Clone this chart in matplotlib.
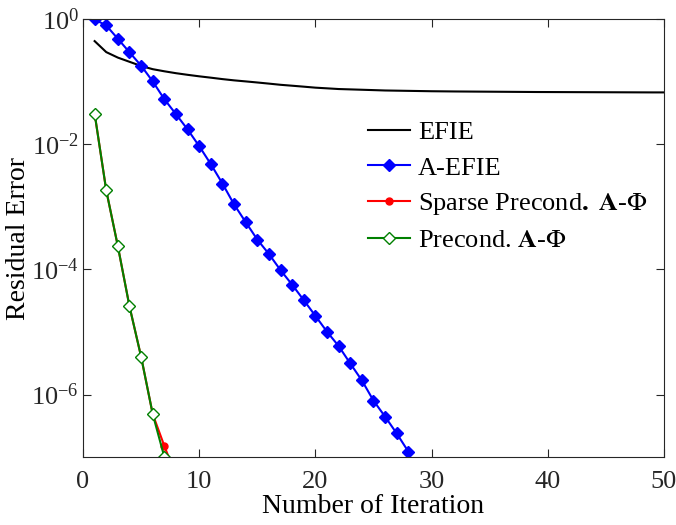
import matplotlib
matplotlib.use("Agg")
import matplotlib.pyplot as plt
import numpy as np

plt.rcParams["font.family"] = ["Liberation Serif", "DejaVu Serif"]
plt.rcParams["mathtext.fontset"] = "stix"

# residual error vs iteration
efie_it = list(range(1, 51))
efie_err = [0.45, 0.30, 0.245, 0.21, 0.18, 0.16, 0.148, 0.138, 0.13, 0.123,
            0.117, 0.111, 0.106, 0.102, 0.098, 0.094, 0.090, 0.087, 0.084, 0.081,
            0.079, 0.077, 0.076, 0.075, 0.074, 0.073, 0.0725, 0.072, 0.0715, 0.071,
            0.0707, 0.0704, 0.0702, 0.070, 0.0698, 0.0696, 0.0694, 0.0692, 0.069, 0.0689,
            0.0688, 0.0687, 0.0686, 0.0685, 0.0684, 0.0683, 0.0682, 0.0681, 0.068, 0.068]

aefie_it = list(range(1, 29))
aefie_err = [1.0, 0.80, 0.49, 0.298, 0.182, 0.102, 0.053, 0.0305, 0.0174, 9.4e-3,
             4.84e-3, 2.37e-3, 1.10e-3, 5.72e-4, 3.01e-4, 1.77e-4, 9.75e-5, 5.70e-5,
             3.23e-5, 1.81e-5, 1.01e-5, 5.96e-6, 3.14e-6, 1.68e-6, 7.98e-7, 4.42e-7,
             2.38e-7, 1.22e-7]

sparse_it = list(range(1, 9))
sparse_err = [0.0312, 1.84e-3, 2.35e-4, 2.57e-5, 4.02e-6, 4.85e-7, 1.5e-7, 5e-8]

precond_it = list(range(1, 8))
precond_err = [0.0312, 1.84e-3, 2.35e-4, 2.57e-5, 4.02e-6, 4.85e-7, 1.0e-7]

fig = plt.figure(figsize=(6.76, 5.25), dpi=100)
ax = fig.add_axes([0.1228, 0.1295, 0.8594, 0.8335])

ax.semilogy(efie_it, efie_err, color="black", lw=1.5, label="EFIE")
ax.semilogy(aefie_it, aefie_err, color="blue", lw=1.5, marker="D", ms=6.5,
            label="A-EFIE")
ax.semilogy(sparse_it, sparse_err, color="red", lw=1.5, marker="o", ms=5,
            label=r"Sparse Precond$\mathbf{.}$ $\mathbf{A}$-$\Phi$")
ax.semilogy(precond_it, precond_err, color="green", lw=1.5, marker="D", ms=6.5,
            mfc="white", mec="green", mew=1.0, label=r"Precond. $\mathbf{A}$-$\Phi$")

ax.set_xlim(0, 50)
ax.set_ylim(1e-7, 1)
ax.set_xticks([0, 10, 20, 30, 40, 50])
ax.set_yticks([1e-6, 1e-4, 1e-2, 1e0])
ax.minorticks_off()
ax.tick_params(direction="in", top=True, right=True, labelsize=19,
               colors="#262626", length=6, width=0.8)
ax.tick_params(axis="x", pad=10)
ax.tick_params(axis="y", pad=3)
for s in ax.spines.values():
    s.set_color("#262626")
    s.set_linewidth(0.8)

ax.set_xlabel("Number of Iteration", fontsize=20, labelpad=1)
ax.set_ylabel("Residual Error", fontsize=20, labelpad=0)

ax.legend(loc="upper left", bbox_to_anchor=(0.49, 0.768), frameon=False,
          fontsize=19, handlelength=1.6, handletextpad=0.3,
          labelspacing=0.44, borderaxespad=0, borderpad=0)

fig.savefig("out.png", dpi=100)
